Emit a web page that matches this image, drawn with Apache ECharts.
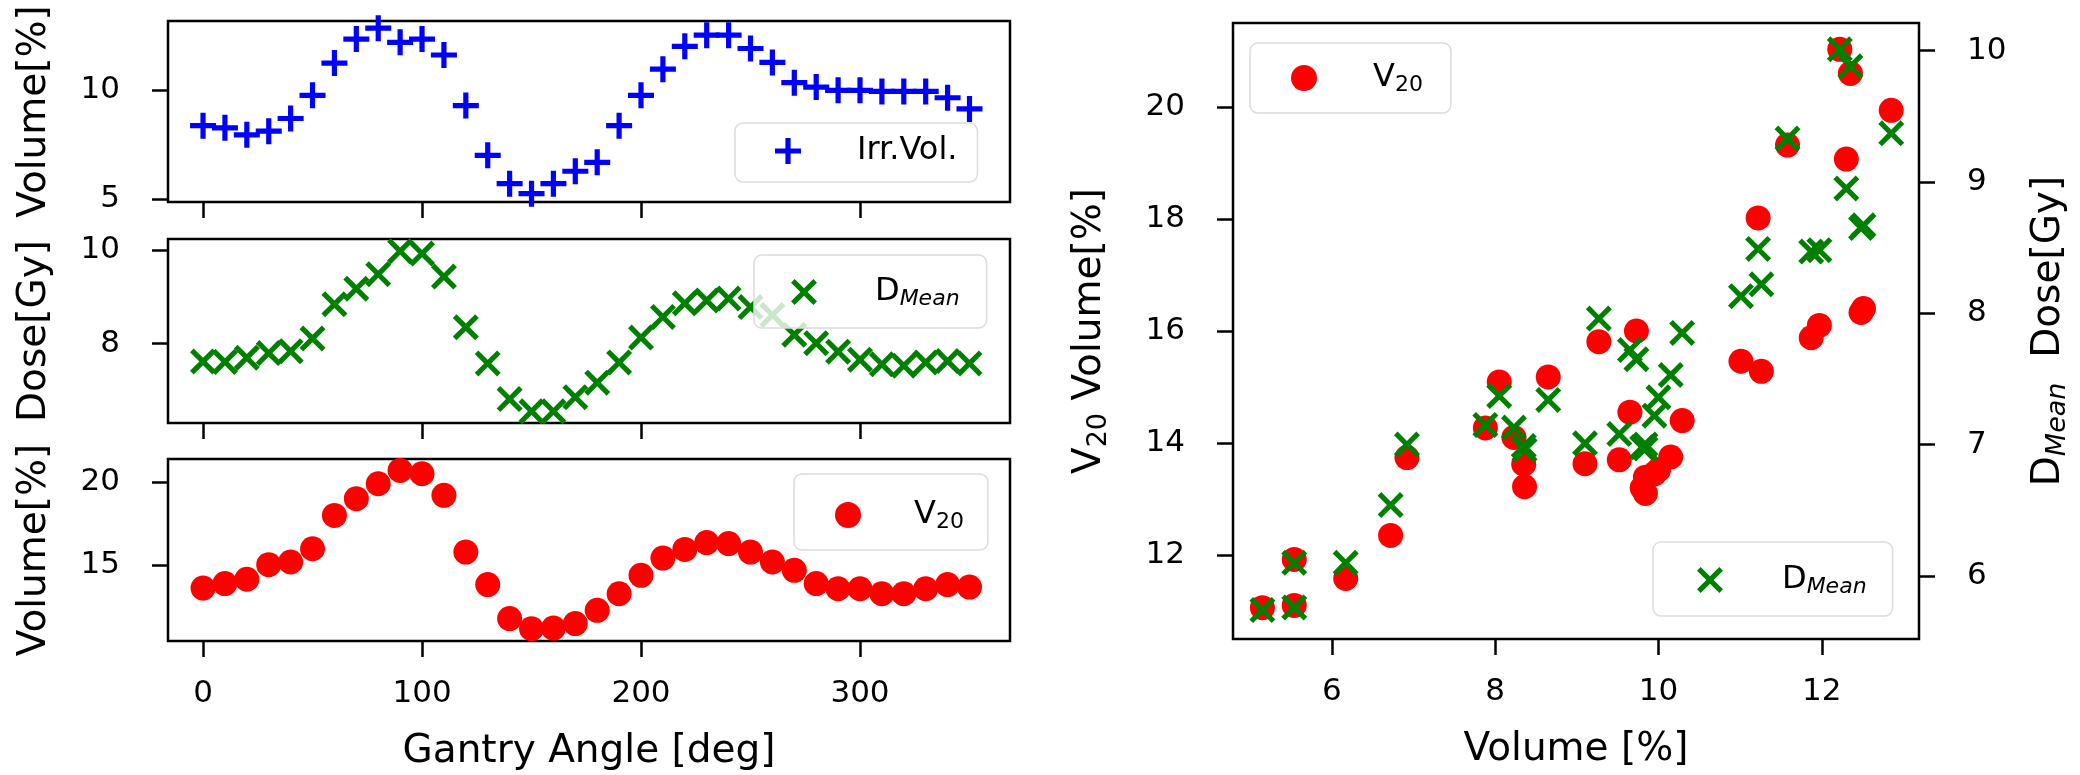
<!DOCTYPE html>
<html>
<head lang="en">
    <meta charset="UTF-8">
    <title>Gantry angle vs volume / dose</title>
    <script src="https://cdn.jsdelivr.net/npm/echarts@6/dist/echarts.min.js"></script>
    <style>
        html, body { margin: 0; padding: 0; background: #fff; }
        #chart { width: 2080px; height: 775px; }
    </style>
</head>
<body>
<div id="chart"></div>
<script>
    // gantry angles (deg)
    var angles = [0, 10, 20, 30, 40, 50, 60, 70, 80, 90, 100, 110, 120, 130, 140, 150, 160, 170,
        180, 190, 200, 210, 220, 230, 240, 250, 260, 270, 280, 290, 300, 310, 320, 330, 340, 350];
    // left panels
    var irrVol = [8.38, 8.28, 7.96, 8.13, 8.71, 9.77, 11.25, 12.35, 12.85, 12.2, 12.35, 11.62, 9.3, 7.02, 5.72, 5.26, 5.72, 6.29,
        6.7, 8.38, 9.77, 10.97, 12.02, 12.53, 12.53, 11.92, 11.28, 10.35, 10.15, 10.0, 10.0, 9.95, 9.95, 9.95, 9.66, 9.15];
    var dMean = [7.62, 7.61, 7.70, 7.80, 7.84, 8.11, 8.84, 9.17, 9.48, 9.97, 9.92, 9.43, 8.35, 7.58, 6.82, 6.56, 6.56, 6.86,
        7.17, 7.6, 8.13, 8.57, 8.86, 8.92, 8.96, 8.78, 8.61, 8.19, 8.01, 7.83, 7.66, 7.56, 7.53, 7.6, 7.63, 7.58];
    var v20 = [13.61, 13.88, 14.14, 15.02, 15.18, 15.98, 17.99, 19.0, 19.9, 20.7, 20.5, 19.2, 15.78, 13.82, 11.77, 11.16, 11.2, 11.47,
        12.27, 13.27, 14.38, 15.42, 15.94, 16.35, 16.29, 15.78, 15.18, 14.68, 13.88, 13.57, 13.57, 13.27, 13.27, 13.57, 13.82, 13.67];
    // right scatter
    var scatterVol = [8.35, 8.23, 7.88, 8.05, 8.65, 9.73, 11.22, 12.3, 12.85, 12.22, 12.35, 11.58, 9.27, 6.92, 5.54, 5.15, 5.54, 6.17,
        6.72, 8.36, 9.65, 11.01, 11.97, 12.48, 12.51, 11.87, 11.26, 10.29, 10.15, 10.0, 9.95, 9.84, 9.8, 9.84, 9.52, 9.1];
    var scatterV20 = [13.62, 14.1, 14.27, 15.09, 15.18, 16.0, 18.02, 19.07, 19.94, 21.03, 20.6, 19.32, 15.81, 13.74, 11.92, 11.06, 11.1, 11.58,
        12.35, 13.22, 14.55, 15.46, 16.1, 16.33, 16.4, 15.88, 15.28, 14.4, 13.75, 13.52, 13.45, 13.1, 13.2, 13.39, 13.7, 13.63];
    var scatterDMean = [6.99, 7.13, 7.15, 7.37, 7.34, 7.65, 8.49, 8.95, 9.37, 10.01, 9.88, 9.33, 7.96, 7.0, 6.1, 5.74, 5.76, 6.1,
        6.54, 6.96, 7.72, 8.13, 8.48, 8.65, 8.67, 8.47, 8.22, 7.85, 7.53, 7.36, 7.22, 6.97, 6.98, 7.0, 7.08, 7.01];
    // ticks
    var angleTicks = [0, 100, 200, 300];
    var volTicks = [5, 10];
    var doseTicks = [8, 10];
    var v20Ticks = [15, 20];
    var scatterXTicks = [6, 8, 10, 12];
    var scatterV20Ticks = [12, 14, 16, 18, 20];
    var scatterDoseTicks = [6, 7, 8, 9, 10];

    var FONT = 'DejaVu Sans';
    var PLUS = 'path://M4,0H6V4H10V6H6V10H4V6H0V4H4Z';
    var CROSS = 'path://M1.4,0L5,3.6L8.6,0L10,1.4L6.4,5L10,8.6L8.6,10L5,6.4L1.4,10L0,8.6L3.6,5L0,1.4Z';

    function zip(a, b) {
        var out = [];
        for (var i = 0; i < a.length; i++) out.push([a[i], b[i]]);
        return out;
    }

    var tick = { show: true, inside: false, length: 16, lineStyle: { color: '#000', width: 2.5 } };
    function label(show, margin) {
        return { show: show, color: '#000', fontSize: 31, fontFamily: FONT, margin: margin };
    }
    function xAx(grid, vals, min, max, showLabel, name) {
        return {
            type: 'value', gridIndex: grid, min: min, max: max,
            axisLine: { show: false, onZero: false }, splitLine: { show: false },
            axisTick: Object.assign({ customValues: vals }, tick),
            axisLabel: Object.assign({ customValues: vals }, label(showLabel, 37)),
            name: name || '', nameLocation: 'middle', nameGap: 91,
            nameTextStyle: { color: '#000', fontSize: 39, fontFamily: FONT }
        };
    }
    function yAx(grid, vals, min, max, name, gap, pos, rich) {
        return {
            type: 'value', gridIndex: grid, min: min, max: max, position: pos || 'left',
            axisLine: { show: false, onZero: false }, splitLine: { show: false },
            axisTick: Object.assign({ customValues: vals }, tick),
            axisLabel: Object.assign({ customValues: vals }, label(true, 48)),
            name: name, nameLocation: 'middle', nameGap: gap, nameRotate: 90,
            nameTextStyle: { color: '#000', fontSize: 39, fontFamily: FONT, rich: rich || {} }
        };
    }
    var titleRich = {
        m: { fontSize: 39, fontFamily: FONT, color: '#000', lineHeight: 42, verticalAlign: 'bottom', padding: [0, 0, 3, 0] },
        s: { fontSize: 27, fontFamily: FONT, color: '#000', lineHeight: 27, verticalAlign: 'bottom' },
        si: { fontSize: 27, fontFamily: FONT, color: '#000', lineHeight: 27, verticalAlign: 'bottom', fontStyle: 'italic' }
    };

    function legendRich(pad) {
        return {
            p: { fontSize: 32, fontFamily: FONT, color: '#000', lineHeight: 36, verticalAlign: 'bottom', padding: [0, 0, 2, pad] },
            s: { fontSize: 22, fontFamily: FONT, color: '#000', lineHeight: 22, verticalAlign: 'bottom' },
            si: { fontSize: 22, fontFamily: FONT, color: '#000', lineHeight: 22, verticalAlign: 'bottom', fontStyle: 'italic' }
        };
    }
    function legendText(name) {
        if (name === 'V20') return '{p|V}{s|20}';
        if (name === 'DMean') return '{p|D}{si|Mean}';
        return '{p|' + name + '}';
    }
    function legend(name, icon, left, top, padding, pad) {
        return {
            data: [{ name: name, icon: icon }],
            left: left, top: top, padding: padding, orient: 'vertical',
            itemWidth: 26, itemHeight: 26,
            backgroundColor: 'rgba(255,255,255,0.8)', borderColor: '#dcdcdc', borderWidth: 1.5, borderRadius: 8,
            selectedMode: false,
            formatter: legendText,
            textStyle: { rich: legendRich(pad) }
        };
    }

    var option = {
        animation: false,
        backgroundColor: '#fff',
        grid: [
            { left: 168, top: 21, width: 842, height: 181 },
            { left: 168, top: 239, width: 842, height: 184 },
            { left: 168, top: 459, width: 842, height: 182 },
            { left: 1233, top: 23, width: 686, height: 616 }
        ].map(function (g) {
            return Object.assign({ show: true, borderColor: '#000', borderWidth: 2.5, backgroundColor: 'transparent', outerBoundsMode: 'none' }, g);
        }),
        xAxis: [
            xAx(0, angleTicks, -16, 368.5, false),
            xAx(1, angleTicks, -16, 368.5, false),
            xAx(2, angleTicks, -16, 368.5, true, 'Gantry Angle [deg]'),
            xAx(3, scatterXTicks, 4.79, 13.19, true, 'Volume [%]')
        ],
        yAxis: [
            yAx(0, volTicks, 4.88, 13.18, 'Volume[%]', 114),
            yAx(1, doseTicks, 6.31, 10.23, 'Dose[Gy]', 114),
            yAx(2, v20Ticks, 10.42, 21.39, 'Volume[%]', 114),
            yAx(3, scatterV20Ticks, 10.5, 21.5, '{m|V}{s|20}{m| Volume[%]}', 121, 'left', titleRich),
            yAx(3, scatterDoseTicks, 5.52, 10.21, '{m|D}{si|Mean}{m|  Dose[Gy]}', 110, 'right', titleRich)
        ],
        legend: [
            legend('Irr.Vol.', PLUS, 735, 123, [12, 20, 13, 40], 51),
            legend('DMean', CROSS, 754, 255, [21, 27, 18, 37], 53),
            legend('V20', 'circle', 794, 474, [25, 24, 17, 41], 48),
            legend('V20', 'circle', 1250, 43, [19, 28, 17, 41], 51),
            legend('DMean', CROSS, 1653, 542, [22, 26, 18, 44], 54)
        ],
        series: [
            { name: 'Irr.Vol.', type: 'scatter', xAxisIndex: 0, yAxisIndex: 0, data: zip(angles, irrVol),
                symbol: PLUS, symbolSize: 26, itemStyle: { color: '#0000ff', opacity: 1 } },
            { name: 'DMean', type: 'scatter', xAxisIndex: 1, yAxisIndex: 1, data: zip(angles, dMean),
                symbol: CROSS, symbolSize: 26, itemStyle: { color: '#008000', opacity: 1 } },
            { name: 'V20', type: 'scatter', xAxisIndex: 2, yAxisIndex: 2, data: zip(angles, v20),
                symbol: 'circle', symbolSize: 25, itemStyle: { color: '#ff0000', opacity: 1 } },
            { name: 'V20', type: 'scatter', xAxisIndex: 3, yAxisIndex: 3, data: zip(scatterVol, scatterV20),
                symbol: 'circle', symbolSize: 25, itemStyle: { color: '#ff0000', opacity: 1 } },
            { name: 'DMean', type: 'scatter', xAxisIndex: 3, yAxisIndex: 4, data: zip(scatterVol, scatterDMean),
                symbol: CROSS, symbolSize: 26, itemStyle: { color: '#008000', opacity: 1 } }
        ]
    };

    var myChart = echarts.init(document.getElementById('chart'));
    myChart.setOption(option);
</script>
</body>
</html>
